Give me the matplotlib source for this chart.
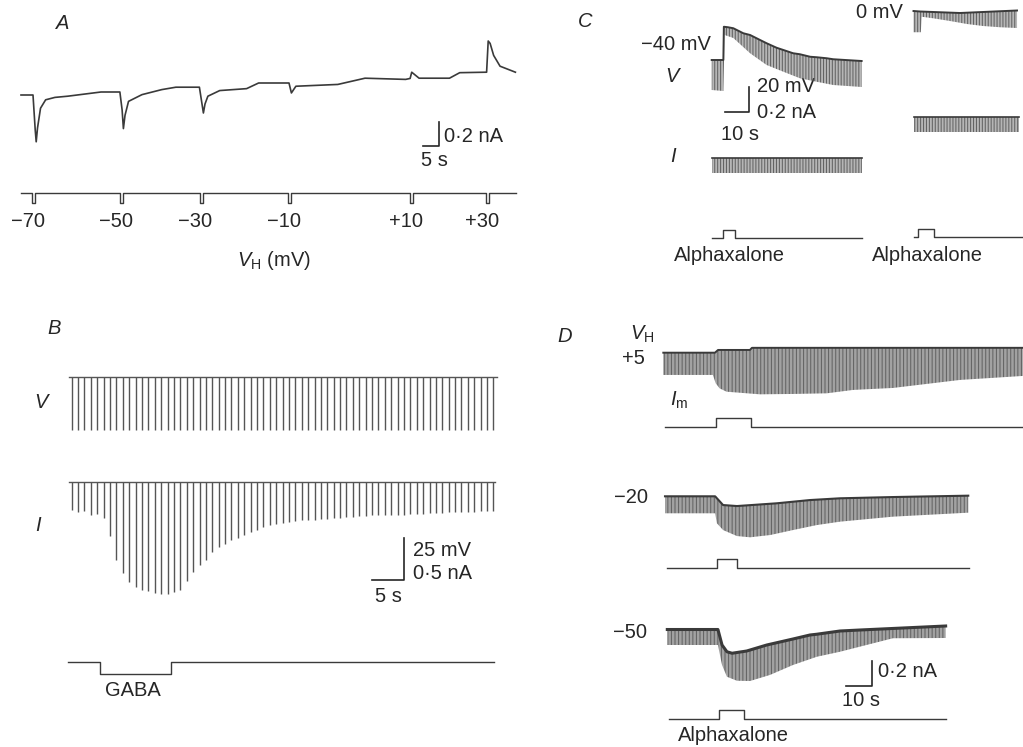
import numpy as np
import matplotlib
matplotlib.use("Agg")
import matplotlib.pyplot as plt

plt.rcParams['font.family'] = ['Liberation Sans', 'DejaVu Sans']
plt.rcParams['mathtext.fontset'] = 'custom'
plt.rcParams['mathtext.rm'] = 'Liberation Sans'
plt.rcParams['mathtext.it'] = 'Liberation Sans:italic'
plt.rcParams['hatch.linewidth'] = 0.7

W, H, DPI = 1023, 747, 100
INK = '#262626'
TRACE = '#3a3a3a'
GREY = '#555555'
HGREY = '#606060'
FS = 14.5

# ---------------- data ----------------
# Panel A: membrane current (nA, relative) vs time (s); holding potential steps
A_T = [0, 3.75, 4.44, 4.75, 5.16, 6.1, 7.7, 10.6, 14.6, 25, 30.9, 31.6, 32.0, 32.5, 33.6,
       37.8, 44, 48.4, 55.75, 57.0, 57.5, 58.4, 62.1, 70.5, 74.25, 83.75, 84.5, 85.9, 99,
       107.5, 120.2, 121.6, 122.1, 124.4, 133.9, 137.1, 145.5, 146.0, 146.6, 147.7, 149.7, 154.5]
A_I = [0.00, 0.00, -0.29, -0.39, -0.275, -0.11, -0.04, -0.02, -0.01, 0.025, 0.025, -0.125,
       -0.28, -0.17, -0.053, 0.003, 0.045, 0.065, 0.065, -0.15, -0.075, -0.01, 0.037, 0.053,
       0.10, 0.10, 0.017, 0.073, 0.088, 0.14, 0.13, 0.138, 0.19, 0.14, 0.14, 0.186, 0.19,
       0.45, 0.43, 0.33, 0.24, 0.19]
A_STEP_T = [3.4, 30.9, 55.9, 83.4, 121.6, 145.3]
A_VH_LABELS = ['\u221270', '\u221250', '\u221230', '\u221210', '+10', '+30']
A_END = 154.7

# Panel B: GABA response, one pulse per second
B_I_PEAK = [0.34, 0.36, 0.35, 0.40, 0.38, 0.43, 0.65, 0.93, 1.09, 1.20,
            1.26, 1.29, 1.31, 1.33, 1.34, 1.34, 1.32, 1.29, 1.19, 1.08,
            0.99, 0.93, 0.84, 0.78, 0.74, 0.70, 0.67, 0.63, 0.60, 0.58,
            0.54, 0.52, 0.50, 0.49, 0.48, 0.47, 0.46, 0.46, 0.45, 0.44,
            0.44, 0.43, 0.43, 0.42, 0.42, 0.41, 0.41, 0.40, 0.40, 0.40,
            0.39, 0.39, 0.39, 0.38, 0.38, 0.38, 0.37, 0.37, 0.37, 0.36,
            0.36, 0.36, 0.36, 0.36, 0.35, 0.35, 0.35]
B_V_STEP = -32.0
B_GABA = (4.5, 15.5)

# Panel C: current clamp, alphaxalone
C_VL_T_TOP = [0, 4.8, 5.0, 6.7, 8.9, 13.0, 15.8, 19.9, 22.6, 26.7, 29.5, 33.5, 36.3, 40.5, 43.2, 47.3, 50.0, 61.7]
C_VL_V_TOP = [-40, -40, -13.4, -13.8, -14.6, -18.6, -20, -24, -26.6, -30.2, -32, -34.6, -35.4, -37.4, -37.8, -38.6, -39.4, -40.8]
C_VL_T_BOT = [0, 4.8, 5.3, 8.9, 15.8, 22.6, 29.5, 36.3, 43.2, 50.0, 61.7]
C_VL_V_BOT = [-64, -64.8, -20, -22.4, -34.6, -44, -49.4, -54.6, -57.4, -60, -61.6]
C_VR_T_TOP = [0, 2.7, 19.1, 42.6]
C_VR_V_TOP = [-0.8, -1.2, -2.4, -0.4]
C_VR_T_BOT = [0, 3.0, 3.4, 8.0, 15.0, 22.0, 28.6, 35.6, 42.6]
C_VR_V_BOT = [-17.8, -17.8, -5.4, -6.6, -8.8, -11.2, -12.8, -13.8, -14.4]
C_I_STEP = -0.12
C_IL_END, C_IR_END = 61.7, 43.5
C_ALPHA_L = (4.8, 9.6, 61.7)
C_ALPHA_R = (2.0, 8.4, 44.5)

# Panel D: voltage clamp, I_m at three holding potentials
D1_T_TOP = [0, 20.1, 21.3, 33.7, 34.5, 139.9]
D1_I_TOP = [0, 0, 0.022, 0.022, 0.039, 0.039]
D1_T_BOT = [0, 19.3, 20.4, 21.9, 24.6, 37.6, 50.5, 63.6, 73.8, 89.4, 115.4, 139.9]
D1_I_BOT = [-0.178, -0.178, -0.245, -0.285, -0.312, -0.333, -0.33, -0.325, -0.298, -0.282, -0.218, -0.186]
D2_T_TOP = [0, 19.5, 22.6, 28, 43.5, 56.4, 68.1, 88.7, 118]
D2_I_TOP = [0, 0, -0.07, -0.078, -0.056, -0.03, -0.016, -0.006, 0.005]
D2_T_BOT = [0, 19.5, 20.2, 22.6, 28, 33.1, 40.9, 49.8, 59.1, 68.1, 88.7, 118]
D2_I_BOT = [-0.136, -0.136, -0.216, -0.27, -0.318, -0.328, -0.31, -0.27, -0.23, -0.203, -0.163, -0.131]
D3_T_TOP = [0, 19.7, 21.3, 23.2, 25.2, 30.9, 38.7, 48.9, 55.5, 58.1, 67.2, 75, 108.3]
D3_I_TOP = [0, 0, -0.124, -0.178, -0.19, -0.172, -0.124, -0.076, -0.044, -0.038, -0.012, -0.004, 0.028]
D3_T_BOT = [0, 19.7, 21.3, 23.2, 27.1, 32.2, 39.9, 48.9, 58.2, 67.2, 87.8, 108.3]
D3_I_BOT = [-0.124, -0.124, -0.284, -0.378, -0.41, -0.412, -0.364, -0.284, -0.218, -0.178, -0.07, -0.068]
D_VH_LABELS = ['+5', '\u221220', '\u221250']
D_ALPHA = [(20.4, 34.1, 0.7, 140.0), (20.1, 28.1, 0.7, 118.4), (20.1, 30.0, 0.7, 108.3)]

# ---------------- drawing ----------------
fig = plt.figure(figsize=(W / DPI, H / DPI), dpi=DPI)
fig.patch.set_facecolor('white')


def trace_axes(x0, y0, sx, sy):
    """Full-figure axes: data (0,0) sits at pixel (x0, y0); sx px/unit in x, sy px/unit upward."""
    ax = fig.add_axes([0, 0, 1, 1])
    ax.set_xlim(-x0 / sx, (W - x0) / sx)
    ax.set_ylim((y0 - H) / sy, y0 / sy)
    ax.axis('off')
    ax.patch.set_alpha(0)
    return ax


def band(ax, t_top, v_top, t_bot, v_bot, hatch, lw=1.3, col=TRACE):
    xs = list(t_top) + list(t_bot)[::-1]
    ys = list(v_top) + list(v_bot)[::-1]
    ax.fill(xs, ys, facecolor='none', edgecolor=HGREY, hatch=hatch, linewidth=0)
    ax.plot(t_top, v_top, color=col, lw=lw, solid_joinstyle='round')


def pulse_bar(ax, start, on, off, end, level):
    ax.plot([start, on, on, off, off, end], [0, 0, level, level, 0, 0], color=TRACE, lw=1.0)


def scalebar(ax, t_right, v_bottom, dt, dv):
    ax.plot([t_right - dt, t_right, t_right], [v_bottom, v_bottom, v_bottom + dv],
            color=INK, lw=1.2)


tx = trace_axes(0, 0, 1, -1)


def label(x, y, s, ha='left', style='normal', fs=FS):
    tx.text(x, y, s, ha=ha, va='center', fontsize=fs, color=INK, style=style)


HATCH_C = '|' * 11
HATCH_D = '|' * 12

# ---- Panel A ----
axA = trace_axes(21, 95, 3.2, 120)
axA.plot(A_T, A_I, color=TRACE, lw=1.2)
scalebar(axA, 130.5, -0.425, 5, 0.2)

axAc = trace_axes(21, 192.7, 3.2, 10)
ct, cv = [0], [0]
for s in A_STEP_T:
    ct += [s, s, s + 1, s + 1]
    cv += [0, -1, -1, 0]
ct.append(A_END)
cv.append(0)
axAc.plot(ct, cv, color=TRACE, lw=1.0)
for s, lab in zip(A_STEP_T, A_VH_LABELS):
    axAc.annotate(lab, xy=(s + 0.5, 0), xytext=(8.0, -20.4), textcoords='offset points',
                  ha='right', va='center', fontsize=FS, color=INK)

label(62.5, 23.7, 'A', ha='center', style='italic')
label(444.5, 136, '0\u00b72 nA')
label(421, 160, '5 s')
label(274, 261, r'$V_{\mathrm{H}}$ (mV)', ha='center')

# ---- Panel B ----
B_SX = 6.39
tB = np.arange(len(B_I_PEAK)) * 1.0
axBv = trace_axes(71.7, 376.7, B_SX, 41.7 / 25)
axBv.plot([-0.38, 66.6], [0, 0], color=GREY, lw=1.0)
axBv.vlines(tB, B_V_STEP, 0, color=GREY, lw=1.0)

axBi = trace_axes(71.7, 482, B_SX, 41.7 / 0.5)
axBi.plot([-0.38, 66.2], [0, 0], color=GREY, lw=1.0)
axBi.vlines(tB, -np.array(B_I_PEAK), 0, color=GREY, lw=1.0)
scalebar(axBi, 52.0, -1.175, 5, 0.5)

axBg = trace_axes(71.7, 662.3, B_SX, 11.2)
pulse_bar(axBg, -0.64, B_GABA[0], B_GABA[1], 66.1, -1)

label(54, 328.7, 'B', ha='center', style='italic')
label(40.6, 403, 'V', ha='center', style='italic')
label(37.9, 525.8, 'I', ha='center', style='italic')
label(413, 550, '25 mV')
label(413, 573.5, '0\u00b75 nA')
label(375, 597, '5 s')
label(133, 691, 'GABA', ha='center')

# ---- Panel C ----
C_SX = 2.43
axCvl = trace_axes(711.7, 10, C_SX, 1.25)
band(axCvl, C_VL_T_TOP, C_VL_V_TOP, C_VL_T_BOT, C_VL_V_BOT, HATCH_C, lw=1.4)
scalebar(axCvl, 15.5, -81.4, 10, 20)

axCvr = trace_axes(913.5, 10, C_SX, 1.25)
band(axCvr, C_VR_T_TOP, C_VR_V_TOP, C_VR_T_BOT, C_VR_V_BOT, HATCH_C, lw=1.4)

axCil = trace_axes(711.7, 158.3, C_SX, 125)
band(axCil, [0, C_IL_END], [0, 0], [0, C_IL_END], [C_I_STEP, C_I_STEP], HATCH_C, lw=1.2)
axCir = trace_axes(913.5, 117, C_SX, 125)
band(axCir, [0, C_IR_END], [0, 0], [0, C_IR_END], [C_I_STEP, C_I_STEP], HATCH_C, lw=1.2)

axCal = trace_axes(711.7, 237.7, C_SX, 8)
pulse_bar(axCal, 0, C_ALPHA_L[0], C_ALPHA_L[1], C_ALPHA_L[2], 1)
axCar = trace_axes(913.5, 237.3, C_SX, 8)
pulse_bar(axCar, 0, C_ALPHA_R[0], C_ALPHA_R[1], C_ALPHA_R[2], 1)

label(585, 21.7, 'C', ha='center', style='italic')
label(641, 44, '\u221240 mV')
label(671.7, 76.7, 'V', ha='center', style='italic')
label(756.7, 86.5, '20 mV')
label(756.7, 112.5, '0\u00b72 nA')
label(740, 134, '10 s', ha='center')
label(673.3, 156.7, 'I', ha='center', style='italic')
label(856, 12.5, '0 mV')
label(729.5, 255.7, 'Alphaxalone', ha='center')
label(927, 255.7, 'Alphaxalone', ha='center')

# ---- Panel D ----
D_SX = 2.57
D_SY = 125
origins = [(663.3, 352.7), (665, 496.3), (667.3, 629.5)]
alpha_y = [427.3, 568.3, 719]
tops = [(D1_T_TOP, D1_I_TOP), (D2_T_TOP, D2_I_TOP), (D3_T_TOP, D3_I_TOP)]
bots = [(D1_T_BOT, D1_I_BOT), (D2_T_BOT, D2_I_BOT), (D3_T_BOT, D3_I_BOT)]
top_lw = [1.4, 1.5, 2.2]
for k in range(3):
    x0, y0 = origins[k]
    ax = trace_axes(x0, y0, D_SX, D_SY)
    band(ax, tops[k][0], tops[k][1], bots[k][0], bots[k][1], HATCH_D, lw=top_lw[k])
    if k == 2:
        scalebar(ax, 79.5, -0.452, 10, 0.2)
    axa = trace_axes(x0, alpha_y[k], D_SX, 9)
    on, off, st, en = D_ALPHA[k]
    pulse_bar(axa, st, on, off, en, 1)

label(565, 336, 'D', ha='center', style='italic')
label(630, 334, r'$V_{\mathrm{H}}$')
label(645, 359, D_VH_LABELS[0], ha='right')
label(648, 497.5, D_VH_LABELS[1], ha='right')
label(647, 632.5, D_VH_LABELS[2], ha='right')
label(670, 400, r'$I_{\mathrm{m}}$')
label(878.3, 671.5, '0\u00b72 nA')
label(861, 700.7, '10 s', ha='center')
label(733, 735.7, 'Alphaxalone', ha='center')

fig.savefig('out.png', dpi=DPI, facecolor='white')
